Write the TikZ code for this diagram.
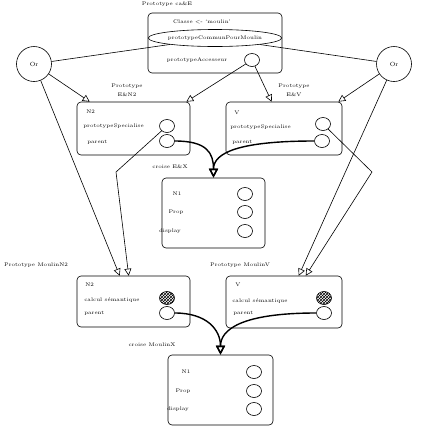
\documentclass[tikz,border=0pt]{standalone}
\usetikzlibrary{
	arrows.meta,shapes.geometric,positioning,calc,patterns
}
\tikzset{
	protobox/.style={
		rectangle, draw, rounded corners=4pt, inner sep=0pt
	},
	%
	slot/.style={
		ellipse, draw, minimum width=15pt, minimum height=13pt, inner sep=0pt
	},
	%
	hatchslot/.style={
		slot, pattern=crosshatch
	},
	%
	orgate/.style={
		circle, draw, minimum size=35pt, inner sep=0pt, font=\fontsize{6}{7}\selectfont
	},
	%
	txt/.style={
		inner sep=0pt, font=\fontsize{5.2}{6}\selectfont
	},
	%
	title/.style={
		inner sep=0pt, align=center, font=\fontsize{5.2}{9}\selectfont
	},
	%
	inherit/.style={
		-{Triangle[open,length=7pt,width=7pt]}
	},
	%
	crossing/.style={
		line width=1.4pt, -{Triangle[open,length=9pt,width=9pt]}
	}
}
\begin{document}
\begin{tikzpicture}[x=1pt,y=-1pt,line width=0.6pt]
    \useasboundingbox (0,0) rectangle (421,429);
    % top prototype
    \node(ttop)[txt] at (167,4) {Prototype ca\&E};
    \node(top)[protobox, minimum width=134pt, minimum height=60pt] at (215,43) {};
    \node(classe)[txt] at (202,22) {Classe {<}- `moulin'};
    \node(comm)[ellipse, draw, minimum width=125pt, minimum height=17pt, txt] at (215,38) {prototypeCommunPourMoulin};
    \node(accl)[txt] at (197,60) {prototypeAccesseur};
    \node(acc)[slot] at (252,60) {};
    \node(orL)[orgate] at (34,64) {Or};
    \node(orR)[orgate] at (394,64) {Or};
    \draw (orL) -- (comm);
    \draw (orR) -- (comm);
    % E&N2 and E&V
    \node(n2)[protobox, minimum width=113pt, minimum height=53pt] at (133.5,128.5) {};
    \node(tn2)[title] at (127,90) {Prototype\\E\&N2};
    \node[txt, anchor=west] at (86,112) {N2};
    \node[txt, anchor=west] at (83,126) {prototypeSpecialise};
    \node[txt, anchor=west] at (87,142) {parent};
    \node(n2spec)[slot] at (167,126) {};
    \node(n2par)[slot] at (167,141) {};
    \node(v)[protobox, minimum width=116pt, minimum height=53pt] at (284,128.5) {};
    \node(tv)[title] at (294,90) {Prototype\\E\&V};
    \node[txt, anchor=west] at (234,113) {V};
    \node[txt, anchor=west] at (230,127) {prototypeSpecialise};
    \node[txt, anchor=west] at (232,142) {parent};
    \node(vspec)[slot] at (323,124) {};
    \node(vpar)[slot] at (322,141) {};
    \draw[inherit] (orL) -- ($(n2.north west)+(13,0)$);
    \draw[inherit] (acc) -- ($(n2.north east)+(-4,0)$);
    \draw[inherit] (acc) -- ($(v.north west)+(46,0)$);
    \draw[inherit] (orR) -- ($(v.north east)+(-4,0)$);
    % croise E&X
    \node(cx)[protobox, minimum width=103pt, minimum height=70pt] at (213.5,213) {};
    \node(tcx)[txt] at (170,167) {croise E\&X};
    \node[txt] at (177,194) {N1};
    \node[txt] at (176,212) {Prop};
    \node[txt] at (170,231) {display};
    \node(cx1)[slot] at (245,194) {};
    \node(cx2)[slot] at (245,212) {};
    \node(cx3)[slot] at (245,231) {};
    \draw[crossing] (n2par.east) .. controls +(32,0) and +(0,-25) .. (cx.north);
    \draw[crossing] (vpar.west) .. controls +(-75,0) and +(0,-25) .. (cx.north);
    % MoulinN2 and MoulinV
    \node(mn2)[protobox, minimum width=113pt, minimum height=51pt] at (133.5,301.5) {};
    \node(tmn2)[txt] at (36,265) {Prototype MoulinN2};
    \node[txt, anchor=west] at (85,285) {N2};
    \node[txt, anchor=west] at (84,300) {calcul sémantique};
    \node[txt, anchor=west] at (84,313) {parent};
    \node(mn2sem)[hatchslot] at (167,298) {};
    \node(mn2par)[slot] at (167,313) {};
    \node(mv)[protobox, minimum width=116pt, minimum height=52pt] at (284,302) {};
    \node(tmv)[txt] at (240,265) {Prototype MoulinV};
    \node[txt, anchor=west] at (235,285) {V};
    \node[txt, anchor=west] at (232,301) {calcul sémantique};
    \node[txt, anchor=west] at (233,313) {parent};
    \node(mvsem)[hatchslot] at (324,298) {};
    \node(mvpar)[slot] at (324,313) {};
    \coordinate(bendL) at (116,172);
    \coordinate(bendR) at (372,172);
    \draw[inherit] (orL) -- ($(mn2.north west)+(43,0)$);
    \draw[inherit] (n2spec) -- (bendL) -- ($(mn2.north west)+(52,0)$);
    \draw[inherit] (vspec) -- (bendR) -- ($(mv.north west)+(80,0)$);
    \draw[inherit] (orR) -- ($(mv.north west)+(73,0)$);
    % croise MoulinX
    \node(mx)[protobox, minimum width=105pt, minimum height=70pt] at (220.5,390) {};
    \node(tmx)[txt] at (152,345) {croise MoulinX};
    \node[txt] at (186,372) {N1};
    \node[txt] at (183,391) {Prop};
    \node[txt] at (178,409) {display};
    \node(mx1)[slot] at (254,372) {};
    \node(mx2)[slot] at (254,391) {};
    \node(mx3)[slot] at (254,409) {};
    \draw[crossing] (mn2par.east) .. controls +(32,0) and +(0,-25) .. (mx.north);
    \draw[crossing] (mvpar.west) .. controls +(-75,0) and +(0,-25) .. (mx.north);
\end{tikzpicture}
\end{document}
